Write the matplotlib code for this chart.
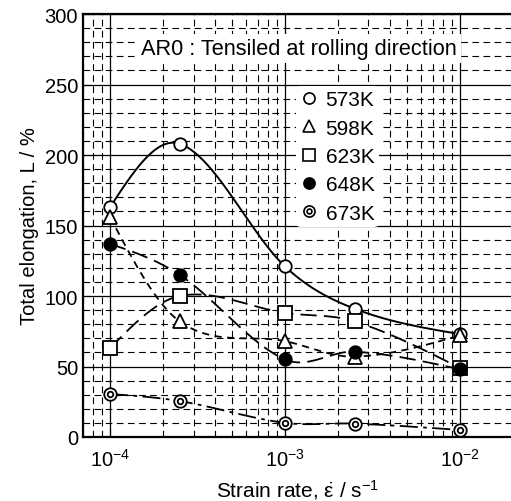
import numpy as np
import matplotlib
matplotlib.use("Agg")
import matplotlib.pyplot as plt
from matplotlib.ticker import LogLocator, MultipleLocator, NullFormatter
from matplotlib.lines import Line2D

plt.rcParams['font.family'] = ['Liberation Sans', 'DejaVu Sans']
plt.rcParams['mathtext.fontset'] = 'custom'
plt.rcParams['mathtext.rm'] = 'Liberation Sans'
plt.rcParams['mathtext.it'] = 'Liberation Sans:italic'
plt.rcParams['mathtext.default'] = 'regular'

# ---- data ----
strain_rate = [1e-4, 2.5e-4, 1e-3, 2.5e-3, 1e-2]
temps = ['573K', '598K', '623K', '648K', '673K']
el_573 = [163, 208, 121, 91, 73]
el_598 = [156, 82, 68, 57, 72]
el_623 = [63, 100, 88, 82, 49]
el_648 = [137, 115, 55, 60.5, 48]
el_673 = [30.5, 25.5, 10, 9.5, 5]


def smooth_curve(x, y, n=60):
    """Cubic Hermite (Catmull-Rom type) curve through the given points."""
    x = np.asarray(x, float)
    y = np.asarray(y, float)
    m = len(x)
    d = np.diff(y) / np.diff(x)
    t = np.zeros(m)
    for i in range(1, m - 1):
        t[i] = (y[i + 1] - y[i - 1]) / (x[i + 1] - x[i - 1])
    t[0] = (3 * d[0] - t[1]) / 2
    t[-1] = (3 * d[-1] - t[-2]) / 2
    xs_all, ys_all = [], []
    for i in range(m - 1):
        h = x[i + 1] - x[i]
        s = np.linspace(0, 1, n)
        h00 = 2 * s**3 - 3 * s**2 + 1
        h10 = s**3 - 2 * s**2 + s
        h01 = -2 * s**3 + 3 * s**2
        h11 = s**3 - s**2
        xs_all.append(x[i] + s * h)
        ys_all.append(h00 * y[i] + h10 * h * t[i] + h01 * y[i + 1] + h11 * h * t[i + 1])
    return np.concatenate(xs_all), np.concatenate(ys_all)


fig = plt.figure(figsize=(5.11, 5.02), dpi=100)
ax = fig.add_axes([0.1624, 0.1275, 0.8405, 0.8425])

ax.set_xscale('log')
ax.set_xlim(7e-5, 2e-2)
ax.set_ylim(0, 300)

ax.xaxis.set_major_locator(LogLocator(base=10, numticks=10))
ax.xaxis.set_minor_locator(LogLocator(base=10, subs=np.arange(2, 10), numticks=20))
ax.xaxis.set_minor_formatter(NullFormatter())
ax.yaxis.set_major_locator(MultipleLocator(50))
ax.yaxis.set_minor_locator(MultipleLocator(10))

ax.grid(which='major', color='black', linewidth=0.9, linestyle='-', zorder=0)
ax.grid(which='minor', color='black', linewidth=0.8, linestyle=(0, (6, 4)), zorder=0)
ax.set_axisbelow(True)

ax.tick_params(which='both', direction='in', labelsize=14.5, top=False, right=False)
ax.tick_params(axis='x', which='major', pad=8)
ax.tick_params(which='major', length=6)
ax.tick_params(which='minor', length=3)
for s in ax.spines.values():
    s.set_linewidth(1.6)
ax.spines['right'].set_visible(False)

styles = [
    (el_573, 'o', 'white', '-', 1.4, 9),
    (el_598, '^', 'white', (0, (4, 3)), 1.3, 9.5),
    (el_623, 's', 'white', (0, (9, 4)), 1.3, 10),
    (el_648, 'o', 'black', (0, (9, 4)), 1.3, 9),
    (el_673, 'o', 'white', (0, (10, 3, 2, 3)), 1.3, 9),
]

lx = np.log10(strain_rate)
for (vals, mk, fc, ls, lw, ms), lab in zip(styles, temps):
    xs, ys = smooth_curve(lx, vals)
    ax.plot(10 ** xs, ys, color='black', linestyle=ls, linewidth=lw, zorder=3)
    ax.plot(strain_rate, vals, linestyle='none', marker=mk, markersize=ms,
            markerfacecolor=fc, markeredgecolor='black', markeredgewidth=1.3,
            zorder=4, label=lab)
    if lab == '673K':
        ax.plot(strain_rate, vals, linestyle='none', marker='o', markersize=4,
                markerfacecolor='white', markeredgecolor='black',
                markeredgewidth=1.3, zorder=5)

ax.text(0.502, 0.918, 'AR0 : Tensiled at rolling direction', transform=ax.transAxes,
        ha='center', va='center', fontsize=15.7,
        bbox=dict(facecolor='white', edgecolor='none', pad=3), zorder=6)

# legend
leg_handles = []
for (vals, mk, fc, ls, lw, ms), lab in zip(styles, temps):
    h = Line2D([], [], linestyle='none', marker=mk, markersize=ms - 1,
               markerfacecolor=fc, markeredgecolor='black', markeredgewidth=1.2)
    if lab == '673K':
        inner = Line2D([], [], linestyle='none', marker='o', markersize=3.5,
                       markerfacecolor='white', markeredgecolor='black',
                       markeredgewidth=1.2)
        h = (h, inner)
    leg_handles.append(h)
leg = ax.legend(leg_handles, temps, loc='upper left', bbox_to_anchor=(0.497, 0.83),
                frameon=True, fontsize=15, handlelength=0.8, handletextpad=0.4,
                labelspacing=0.45, borderpad=0.2, borderaxespad=0)
leg.get_frame().set_facecolor('white')
leg.get_frame().set_edgecolor('none')
leg.get_frame().set_alpha(1)
leg.set_zorder(7)

ax.set_xlabel(r'Strain rate, $\dot{\varepsilon}$ / s$^{-1}$', fontsize=15, labelpad=5)
ax.set_ylabel('Total elongation, L / %', fontsize=14.5, labelpad=4)

fig.savefig('out.png', dpi=100)
